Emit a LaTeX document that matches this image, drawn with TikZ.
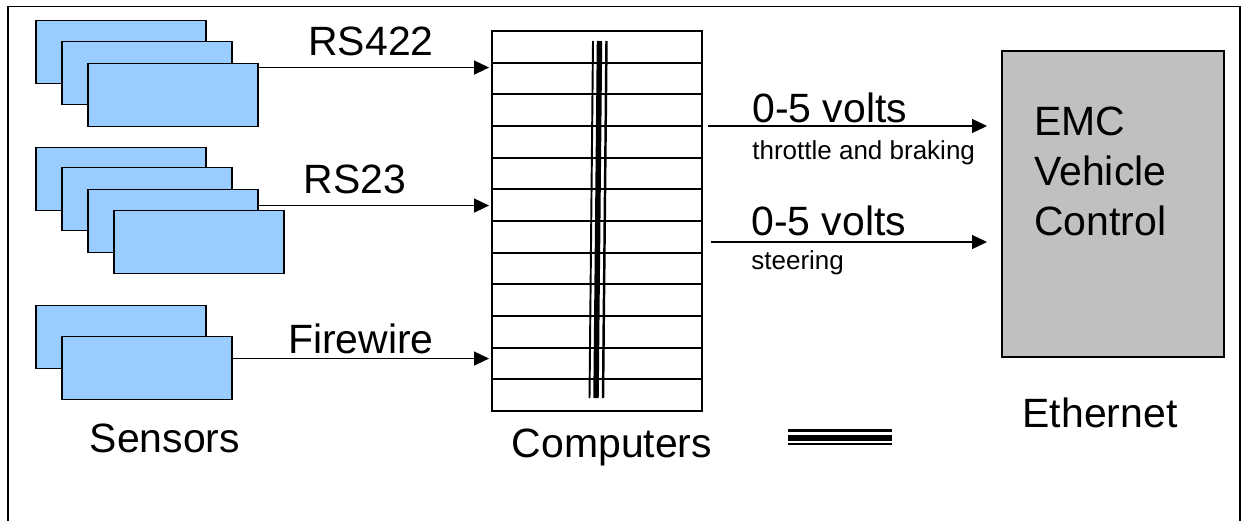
\documentclass[tikz,border=0pt]{standalone}
\usepackage{fontspec}
\setmainfont{Liberation Sans}
\usetikzlibrary{arrows.meta,positioning}
\definecolor{sensorblue}{RGB}{153,204,255}
\definecolor{emcgray}{RGB}{192,192,192}

\begin{document}
\begin{tikzpicture}[
    x=0.02cm, y=-0.02cm,
    sensor/.style={rectangle, draw, line width=1.1pt, fill=sensorblue, minimum width=3.4cm, minimum height=1.26cm, inner sep=0pt},
    arrow/.style={-{Triangle[length=3mm, width=2.8mm]}, line width=0.75pt},
    big/.style={inner sep=0pt, font=\fontsize{23.3}{28.3}\selectfont},
    small/.style={inner sep=0pt, font=\fontsize{14.8}{18}\selectfont}
]
    \useasboundingbox (0,0) rectangle (1243,521);
    \draw[line width=1.1pt] (8,521) -- (8,6.5) -- (1240,6.5) -- (1240,521);

    % sensors
    \node[sensor] (s11) at (121,52) {};
    \node[sensor] (s12) at (147,73) {};
    \node[sensor] (s13) at (173,95) {};
    \node[sensor] (s21) at (121,179) {};
    \node[sensor] (s22) at (147,199) {};
    \node[sensor] (s23) at (173,221) {};
    \node[sensor] (s24) at (199,242) {};
    \node[sensor] (s31) at (121,337) {};
    \node[sensor] (s32) at (147,368) {};

    % computers
    \node[rectangle, draw, line width=1.1pt, minimum width=4.2cm, minimum height=7.6cm, inner sep=0pt] (comp) at (597,221) {};
    \foreach \i in {1,...,11}
        \draw[line width=1.1pt] (492,{31+\i*31.67}) -- (702,{31+\i*31.67});
    \draw[line width=1.1pt] (593,41) -- (589.5,398);
    \draw[line width=3.1pt] (599.5,41) -- (596,398);
    \draw[line width=1.4pt] (606.5,41) -- (603,398);

    % vehicle control
    \node[rectangle, draw, line width=1.1pt, fill=emcgray, minimum width=4.44cm, minimum height=6.12cm, inner sep=0pt] (emc) at (1113,204) {};
    \node[big, align=left, anchor=north west] (emctext) at (1034,107) {EMC\\Vehicle\\Control};

    \coordinate (a1) at ([yshift=-1mm]s13.north east);
    \coordinate (a2) at ([yshift=-3.4mm]s23.north east);
    \coordinate (a3) at ([yshift=-4.6mm]s32.north east);
    \draw[arrow, shorten >=0.4mm] (a1) -- (a1 -| comp.west);
    \draw[arrow, shorten >=0.4mm] (a2) -- (a2 -| comp.west);
    \draw[arrow, shorten >=0.4mm] (a3) -- (a3 -| comp.west);

    \coordinate (v1s) at (708,126);
    \coordinate (v1e) at (987,126);
    \coordinate (v2s) at (711,242);
    \coordinate (v2e) at (987,242);
    \draw[arrow] (v1s) -- (v1e);
    \draw[arrow] (v2s) -- (v2e);

    % labels
    \node[big, anchor=base] (rs422) at (371,55) {RS422};
    \node[big, anchor=base] (rs23) at (355,193) {RS23};
    \node[big, anchor=base] (fire) at (361,353) {Firewire};
    \node[big, anchor=base west] (volt1) at (752,122) {0-5 volts};
    \node[small, anchor=base west] (throttle) at (752,159) {throttle and braking};
    \node[big, anchor=base west] (volt2) at (751,235) {0-5 volts};
    \node[small, anchor=base west] (steer) at (751,269) {steering};
    \node[big, anchor=base] (sensors) at (165,452) {Sensors};
    \node[big, anchor=base] (computers) at (612,457) {Computers};
    \node[big, anchor=base] (ethernet) at (1100,427) {Ethernet};

    % ethernet symbol
    \draw[line width=1.7pt] (788,430.5) -- (892,430.5);
    \draw[line width=3.4pt] (788,438) -- (892,438);
    \draw[line width=1.1pt] (788,444) -- (892,444);
\end{tikzpicture}
\end{document}
